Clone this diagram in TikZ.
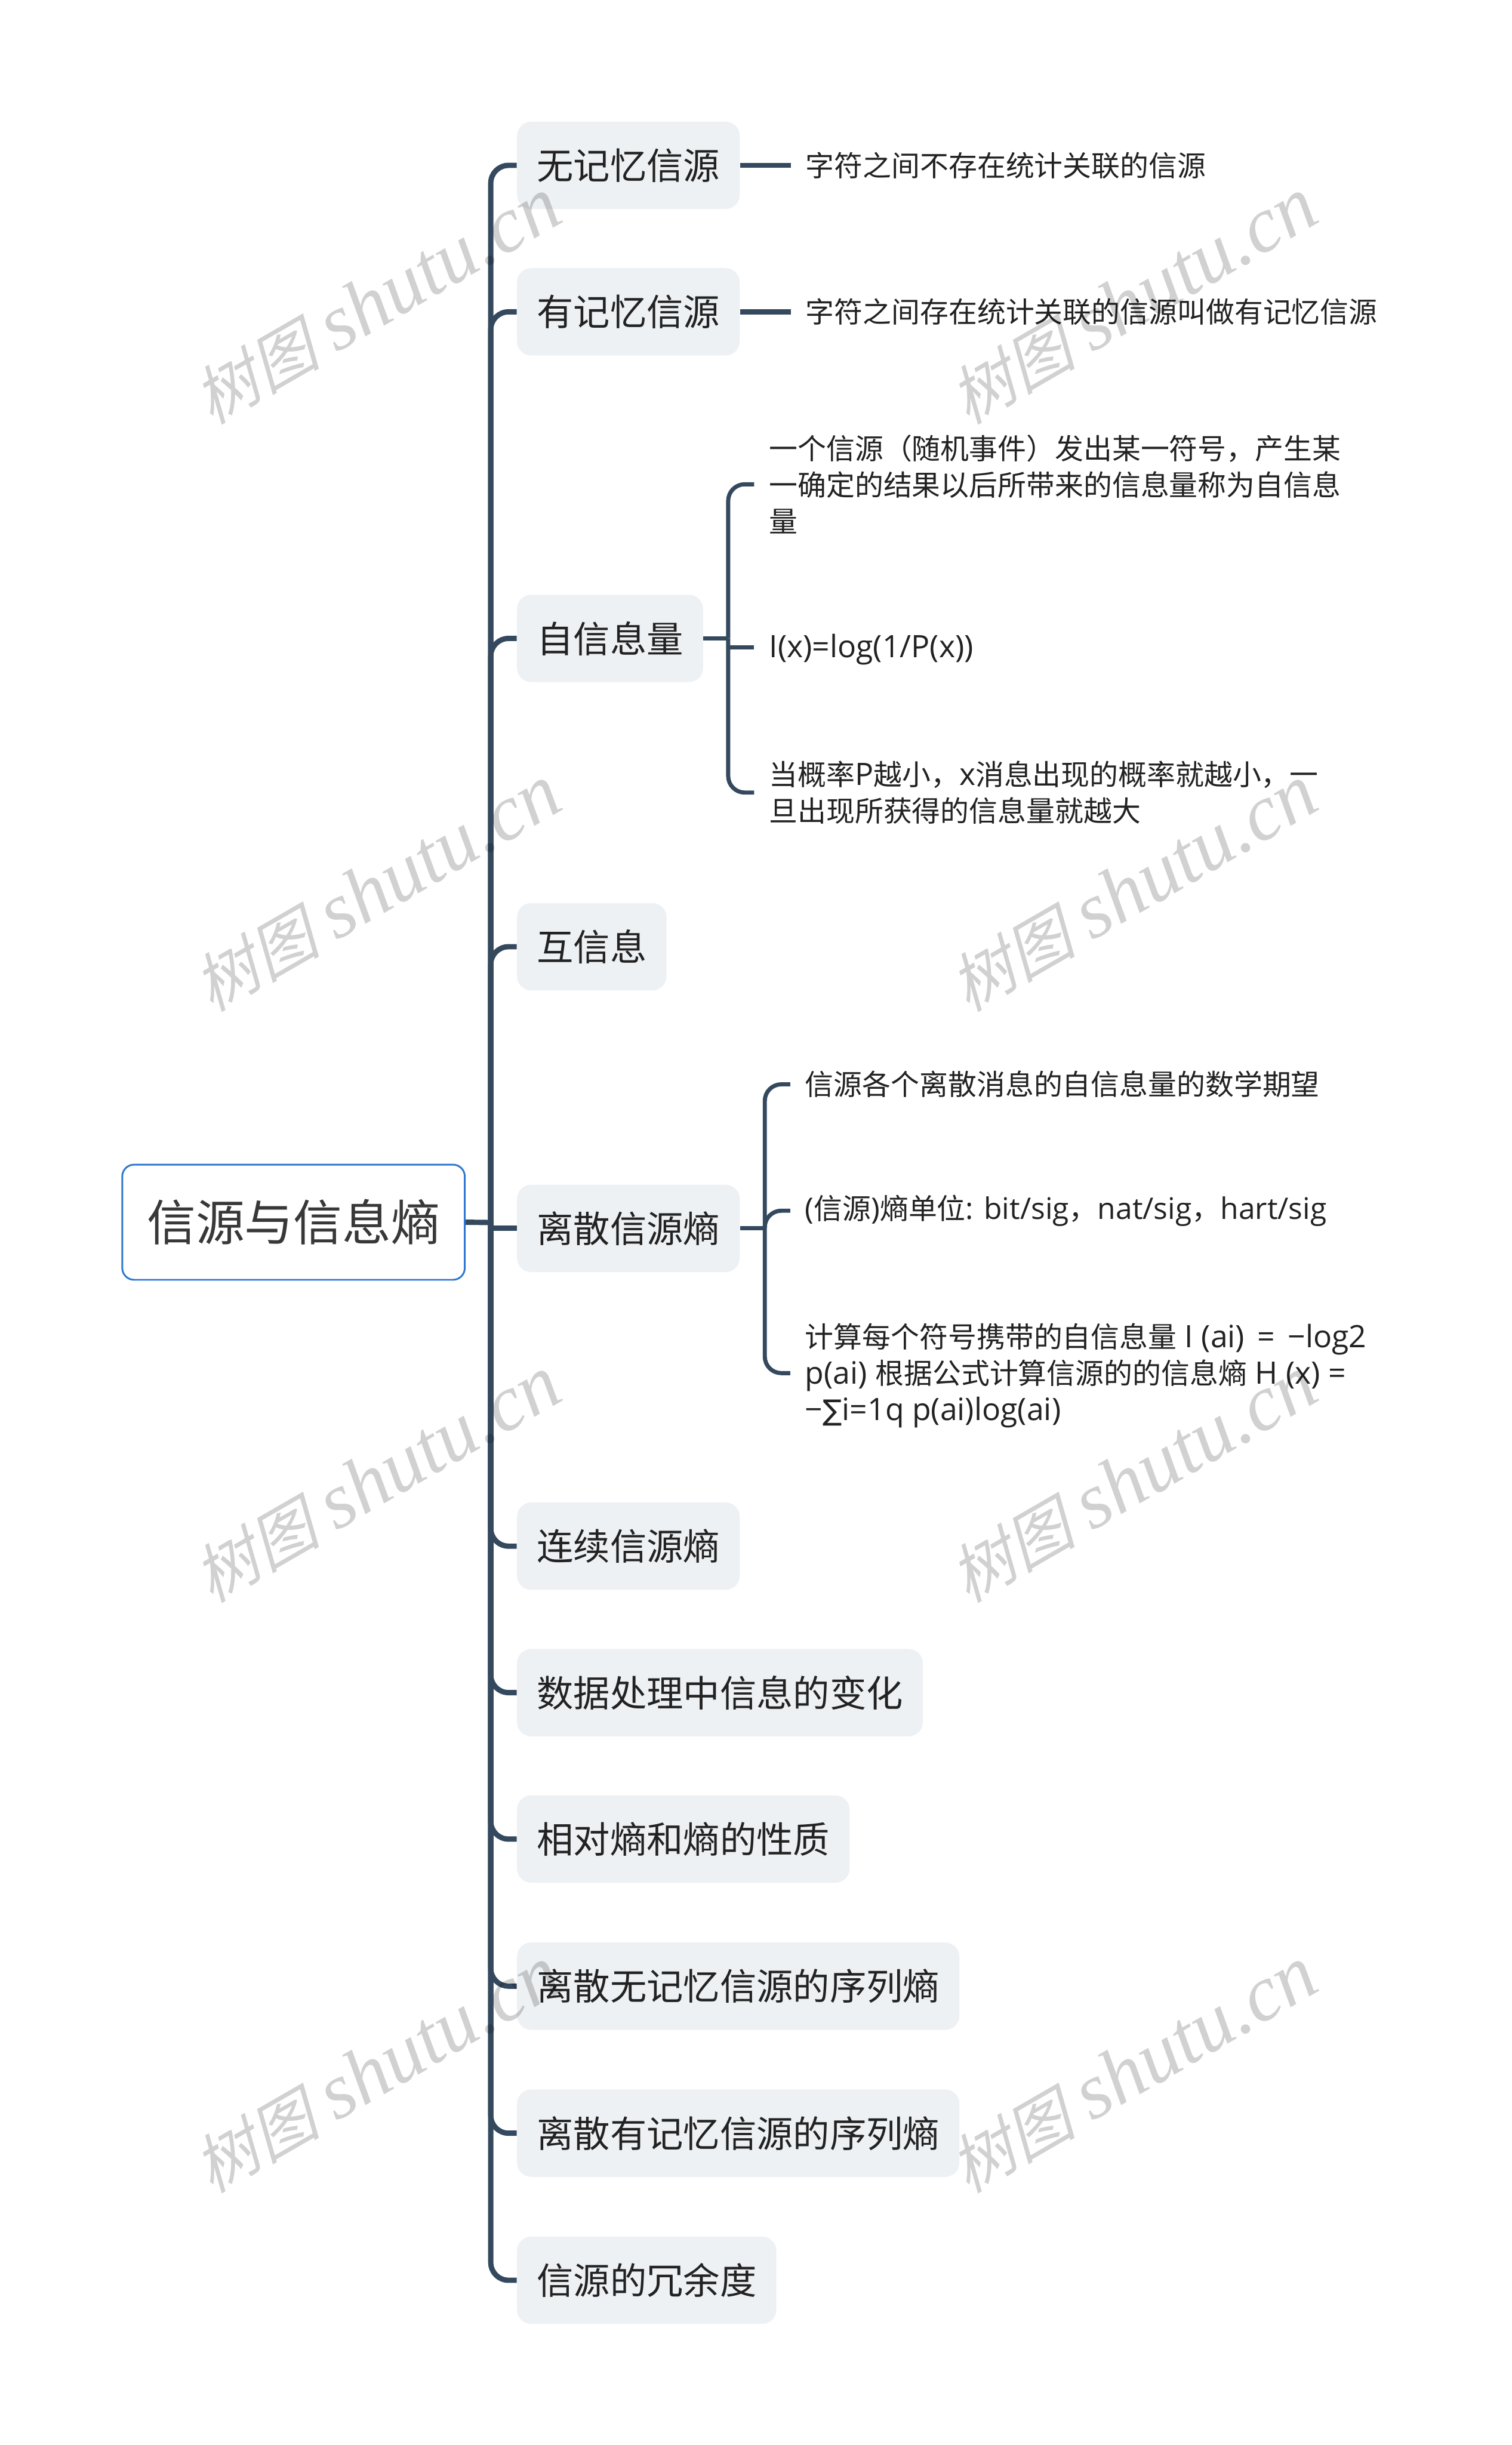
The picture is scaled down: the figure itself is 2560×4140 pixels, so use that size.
\documentclass[tikz,border=0pt]{standalone}
\usepackage{fontspec}
\setmainfont{Noto Sans CJK SC}
\newfontfamily\lat[Scale=1.08]{Open Sans}
\newfontfamily\latb[Scale=1.04]{Open Sans}
\newfontfamily\symf{DejaVu Sans}
\newfontfamily\markcjk[FakeSlant=0.25,Scale=0.87]{Noto Sans CJK SC}
\newfontfamily\marklat[Scale=1.08]{Liberation Serif}
\definecolor{linecol}{HTML}{34495E}
\definecolor{boxcol}{HTML}{EEF1F4}
\definecolor{rootcol}{HTML}{2F78D0}
\definecolor{textcol}{HTML}{222222}
\tikzset{
  rootbox/.style={draw=rootcol,line width=1.5pt,fill=white,rounded corners=10pt,minimum width=290pt,minimum height=97.5pt,inner sep=0pt,text=textcol!90!white,font=\fontsize{41.35}{50}\selectfont},
  topicbox/.style={fill=boxcol,rounded corners=12pt,anchor=west,minimum height=74pt,inner xsep=16.8pt,inner ysep=0pt,text=textcol,font=\fontsize{31}{38}\selectfont},
  notetext/.style={anchor=west,align=left,inner xsep=12.5pt,inner ysep=0pt,text=textcol,font=\fontsize{24.2}{31}\selectfont},
  mainline/.style={draw=linecol,line width=4.5pt},
  subline/.style={draw=linecol,line width=3.5pt},
  markertext/.style={text=black,opacity=0.18,rotate=30,font=\fontsize{62}{70}\selectfont}
}
\begin{document}
\begin{tikzpicture}[x=0.5pt,y=-0.5pt]
\useasboundingbox (0,0) rectangle (2560,4140);
\node[rootbox] (root) at (497,2069.5) {信源与信息熵};
\node[topicbox] (nomem) at (875,280) {无记忆信源};
\node[topicbox] (mem) at (875,528) {有记忆信源};
\node[topicbox] (selfinfo) at (875,1081) {自信息量};
\node[topicbox] (mutual) at (875,1603) {互信息};
\node[topicbox] (disc) at (875,2080) {离散信源熵};
\node[topicbox] (cont) at (875,2618) {连续信源熵};
\node[topicbox] (proc) at (875,2866) {数据处理中信息的变化};
\node[topicbox] (rel) at (875,3114) {相对熵和熵的性质};
\node[topicbox] (seqno) at (875,3363) {离散无记忆信源的序列熵};
\node[topicbox] (seqmem) at (875,3612) {离散有记忆信源的序列熵};
\node[topicbox] (redun) at (875,3861) {信源的冗余度};
\node[notetext] (nomemnote) at (1339,280) {字符之间不存在统计关联的信源};
\node[notetext] (memnote) at (1339,528) {字符之间存在统计关联的信源叫做有记忆信源};
\node[notetext] (selfa) at (1277,820) {一个信源（随机事件）发出某一符号，产生某\\一确定的结果以后所带来的信息量称为自信息\\量};
\node[notetext] (selfb) at (1277,1100) {\lat I(x)=log(1/P(x))};
\node[notetext] (selfc) at (1277,1342) {当概率{\lat P}越小，{\lat x}消息出现的概率就越小，一\\旦出现所获得的信息量就越大};
\node[notetext] (disca) at (1338,1836) {信源各个离散消息的自信息量的数学期望};
\node[notetext] (discb) at (1338,2050) {{\latb (}信源{\latb )}熵单位{\latb : bit/sig}，{\latb nat/sig}，{\latb hart/sig}};
\node[notetext] (discc) at (1338,2329) {计算每个符号携带的自信息量{\lat\ I (ai)\kern4pt\ =\kern4pt\ −log2}\\{\lat p(ai) }根据公式计算信源的的信息熵{\lat\ H (x) =}\\{\lat −}{\symf ∑}{\lat i=1q p(ai)log(ai)}};
\coordinate (trunk) at (831,2070);
\coordinate (selfjoin) at (1233,1081);
\coordinate (discjoin) at (1295,2080);
\draw[mainline] (root.east) -- (trunk);
\foreach \c in {nomem,mem,selfinfo,mutual,cont,proc,rel,seqno,seqmem,redun}
  \draw[mainline,rounded corners=15pt] (trunk) |- (\c.west);
\draw[mainline] (trunk |- disc.west) -- (disc.west);
\draw[mainline] (nomem.east) -- (nomemnote.west);
\draw[mainline] (mem.east) -- (memnote.west);
\draw[subline] (selfinfo.east) -- (selfjoin);
\foreach \c in {selfa,selfc}
  \draw[subline,rounded corners=14pt] (selfjoin) |- (\c.west);
\draw[subline] ([yshift=2pt]selfb.west -| selfjoin) -- ([yshift=2pt]selfb.west);
\draw[subline] (disc.east) -- (discjoin);
\foreach \c in {disca,discb}
  \draw[subline,rounded corners=14pt] (discjoin) |- (\c.west);
\draw[subline,rounded corners=14pt] (discjoin) |- ([yshift=2pt]discc.west);
\foreach \i/\x/\y in {1/638/510,2/638/1505,3/638/2505,4/638/3505,5/1918/510,6/1918/1505,7/1918/2505,8/1918/3505}
  \node[markertext] (mark\i) at (\x,\y) {{\markcjk 树图} {\marklat\itshape shutu.cn}};
\end{tikzpicture}
\end{document}
